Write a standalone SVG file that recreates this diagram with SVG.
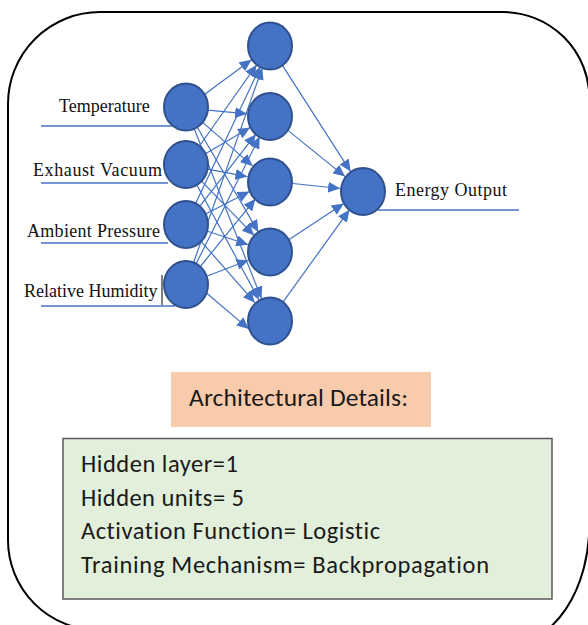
<svg xmlns="http://www.w3.org/2000/svg" width="588" height="625" viewBox="0 0 588 625">
<style>
.frame{fill:none;stroke:#000;stroke-width:2}
.node{fill:#4472C4;stroke:#2F528F;stroke-width:2}
.edge{stroke:#4472C4;stroke-width:1.2;fill:none;marker-end:url(#ah)}
.feed{stroke:#4472C4;stroke-width:1.5}
.lbl{font-family:"Liberation Serif","Times New Roman",serif;font-size:18px;fill:#111}
.cal{font-family:Carlito,Lato,"Open Sans",sans-serif;fill:#1a1a1a;font-variant-ligatures:none}
</style>
<defs>
<marker id="ah" markerUnits="userSpaceOnUse" markerWidth="12" markerHeight="11" refX="12" refY="5.5" orient="auto">
<path d="M0,0 L12,5.5 L0,11 Z" fill="#4472C4"/>
</marker>
</defs>
<path class="frame" d="M8,104 A92,92 0 0 1 100,12 L503,12 A86.4,86.4 0 0 1 589.4,98.4 L589.4,524 A80,120 0 0 1 509.4,644 L98,640 L98,630 A90,90 0 0 1 8,540 Z"/>

<g id="feeds">
<line class="feed" x1="41" y1="126" x2="172" y2="126"/>
<line class="feed" x1="41" y1="183" x2="168" y2="183"/>
<line class="feed" x1="41" y1="243" x2="168" y2="243"/>
<line class="feed" x1="41" y1="306" x2="175" y2="306"/>
<line class="feed" x1="377" y1="210" x2="519" y2="210"/>
</g>

<g id="connectors">
<line class="edge" x1="203.7" y1="94.9" x2="251.5" y2="59.7"/>
<line class="edge" x1="207.9" y1="110.1" x2="247.1" y2="113.8"/>
<line class="edge" x1="202.6" y1="122.4" x2="252.6" y2="165.9"/>
<line class="edge" x1="197.1" y1="127.0" x2="258.4" y2="232.1"/>
<line class="edge" x1="194.1" y1="128.5" x2="261.5" y2="298.6"/>
<line class="edge" x1="198.7" y1="147.0" x2="256.7" y2="64.8"/>
<line class="edge" x1="205.0" y1="153.9" x2="250.1" y2="127.6"/>
<line class="edge" x1="207.6" y1="169.1" x2="247.4" y2="176.7"/>
<line class="edge" x1="201.3" y1="180.8" x2="254.0" y2="235.4"/>
<line class="edge" x1="196.5" y1="184.3" x2="259.0" y2="299.8"/>
<line class="edge" x1="195.4" y1="204.1" x2="260.2" y2="66.8"/>
<line class="edge" x1="199.5" y1="206.6" x2="255.9" y2="134.2"/>
<line class="edge" x1="205.6" y1="214.0" x2="249.5" y2="191.5"/>
<line class="edge" x1="206.9" y1="231.0" x2="248.2" y2="244.7"/>
<line class="edge" x1="200.5" y1="240.6" x2="254.9" y2="302.7"/>
<line class="edge" x1="193.3" y1="263.3" x2="262.3" y2="67.7"/>
<line class="edge" x1="195.8" y1="264.3" x2="259.7" y2="136.6"/>
<line class="edge" x1="199.9" y1="267.0" x2="255.5" y2="198.8"/>
<line class="edge" x1="206.6" y1="276.2" x2="248.5" y2="260.2"/>
<line class="edge" x1="206.2" y1="292.7" x2="248.9" y2="329.1"/>
<line class="edge" x1="282.4" y1="65.4" x2="350.6" y2="171.6"/>
<line class="edge" x1="287.9" y1="130.4" x2="345.1" y2="176.6"/>
<line class="edge" x1="292.9" y1="183.5" x2="340.1" y2="188.5"/>
<line class="edge" x1="289.2" y1="239.4" x2="343.8" y2="203.6"/>
<line class="edge" x1="283.5" y1="301.3" x2="349.5" y2="209.7"/>
</g>

<g id="in1"><ellipse class="node" cx="186" cy="107" rx="22" ry="23.5"/><text class="lbl" x="59" y="112">Temperature</text></g>
<g id="in2"><ellipse class="node" cx="186" cy="164.5" rx="22" ry="23.5"/><text class="lbl" x="33" y="176" textLength="129">Exhaust Vacuum</text></g>
<g id="in3"><ellipse class="node" cx="186" cy="224.5" rx="22" ry="23.5"/><text class="lbl" x="27" y="237" textLength="133">Ambient Pressure</text></g>
<g id="in4"><ellipse class="node" cx="186" cy="284.5" rx="22" ry="23.5"/><text class="lbl" x="24" y="297">Relative Humidity</text><line x1="162" y1="275" x2="162" y2="305" stroke="#000" stroke-width="1"/></g>

<g id="h1"><ellipse class="node" cx="270" cy="46" rx="22" ry="23.5"/></g>
<g id="h2"><ellipse class="node" cx="270" cy="116.5" rx="22" ry="23.5"/></g>
<g id="h3"><ellipse class="node" cx="270" cy="182" rx="22" ry="23.5"/></g>
<g id="h4"><ellipse class="node" cx="270" cy="252" rx="22" ry="23.5"/></g>
<g id="h5"><ellipse class="node" cx="270" cy="321" rx="22" ry="23.5"/></g>

<g id="out"><ellipse class="node" cx="363" cy="191.5" rx="22" ry="23.5"/><text class="lbl" x="395" y="196" textLength="112">Energy Output</text></g>

<g id="arch-title">
<rect x="171" y="372" width="260" height="55" fill="#F8CBAD"/>
<text class="cal" x="189" y="406" font-size="25.5" textLength="219">Architectural Details:</text>
</g>

<g id="details">
<rect x="63" y="438.5" width="489" height="160.5" fill="#E2EFDA" stroke="#595959" stroke-width="1.5"/>
<text class="cal" x="81" y="472" font-size="24.5" textLength="157">Hidden layer=1</text>
<text class="cal" x="81" y="505.5" font-size="24.5" textLength="163">Hidden units= 5</text>
<text class="cal" x="81" y="539" font-size="24.5" textLength="299">Activation Function= Logistic</text>
<text class="cal" x="81" y="572.7" font-size="24.5" textLength="408">Training Mechanism= Backpropagation</text>
</g>
</svg>
